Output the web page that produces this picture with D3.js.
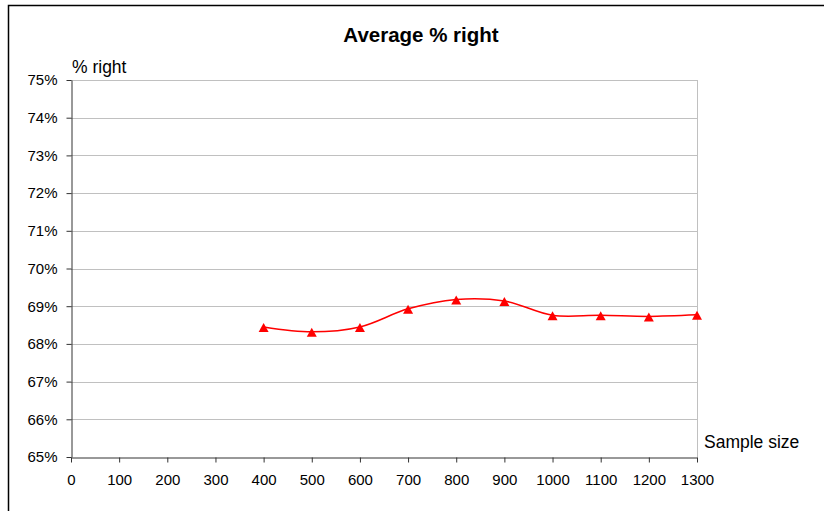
<!DOCTYPE html>
<html>
<head>
<meta charset="utf-8">
<script src="https://cdn.jsdelivr.net/npm/d3@7"></script>
<style>
  body { margin: 0; background: #fff; }
  text { font-family: "Liberation Sans", Arial, sans-serif; fill: #000; }
</style>
</head>
<body>
<div id="chart"></div>
<script>
// data
var sampleSizes = [400, 500, 600, 700, 800, 900, 1000, 1100, 1200, 1300];
var pctRight = [68.45, 68.32, 68.45, 68.93, 69.18, 69.14, 68.76, 68.76, 68.73, 68.77];
var xTicks = [0, 100, 200, 300, 400, 500, 600, 700, 800, 900, 1000, 1100, 1200, 1300];
var yTicks = [65, 66, 67, 68, 69, 70, 71, 72, 73, 74, 75];

var chart = {
  width: 824,
  height: 511,
  top: 80,
  right: 127,
  bottom: 54,
  left: 71,
};

const svg = d3
  .select("#chart")
  .append("svg")
  .attr("width", chart.width)
  .attr("height", chart.height);

/* outer chart border */
svg
  .append("rect")
  .attr("x", 8.5)
  .attr("y", 5.5)
  .attr("width", 830)
  .attr("height", 520)
  .attr("fill", "none")
  .attr("stroke", "#000")
  .attr("stroke-width", 1.5);

var x = d3
  .scaleLinear()
  .domain([0, 1300])
  .range([chart.left, chart.width - chart.right]);

var y = d3
  .scaleLinear()
  .domain([65, 75])
  .range([chart.height - chart.bottom, chart.top]);

/* gridlines */
svg
  .append("g")
  .selectAll("line")
  .data(yTicks.slice(1))
  .join("line")
  .attr("x1", x(0))
  .attr("x2", x(1300))
  .attr("y1", (d) => Math.round(y(d)) + 0.5)
  .attr("y2", (d) => Math.round(y(d)) + 0.5)
  .attr("stroke", "#c0c0c0")
  .attr("stroke-width", 1);

/* right edge of plot area */
svg
  .append("line")
  .attr("x1", Math.round(x(1300)) + 0.5)
  .attr("x2", Math.round(x(1300)) + 0.5)
  .attr("y1", y(75))
  .attr("y2", y(65))
  .attr("stroke", "#c0c0c0");

var xAxis = (g) =>
  g
    .attr("transform", `translate(0, ${Math.round(y(65)) + 0.5})`)
    .call(d3.axisBottom(x).tickValues(xTicks).tickSize(5).tickSizeOuter(0).tickPadding(12).tickFormat(d3.format("d")))
    .call((g) => g.selectAll("line, path").attr("stroke", "#333"))
    .call((g) => g.attr("font-size", 15).attr("font-family", '"Liberation Sans", Arial, sans-serif'));

var yAxis = (g) =>
  g
    .attr("transform", `translate(${Math.round(x(0)) + 0.5}, 0)`)
    .call(d3.axisLeft(y).tickValues(yTicks).tickSize(5).tickSizeOuter(0).tickPadding(9).tickFormat((d) => d + "%"))
    .call((g) => g.selectAll("line, path").attr("stroke", "#333"))
    .call((g) => g.attr("font-size", 15).attr("font-family", '"Liberation Sans", Arial, sans-serif'));

svg.append("g").call(xAxis);
svg.append("g").call(yAxis);

/* smoothed line */
var line = d3
  .line()
  .x((d, i) => x(sampleSizes[i]))
  .y((d) => y(d))
  .curve(d3.curveCatmullRom.alpha(0.5));

svg
  .append("path")
  .datum(pctRight)
  .attr("fill", "none")
  .attr("stroke", "#ff0000")
  .attr("stroke-width", 1.5)
  .attr("d", line);

/* triangle markers */
svg
  .append("g")
  .attr("fill", "#ff0000")
  .selectAll("path")
  .data(pctRight)
  .join("path")
  .attr("transform", (d, i) => `translate(${x(sampleSizes[i])}, ${y(d) + 1})`)
  .attr("d", "M0,-5L5,4L-5,4Z");

/* titles */
svg
  .append("text")
  .attr("x", 421)
  .attr("y", 42)
  .attr("text-anchor", "middle")
  .attr("font-size", 20.5)
  .attr("font-weight", "bold")
  .text("Average % right");

svg
  .append("text")
  .attr("x", 72)
  .attr("y", 73)
  .attr("font-size", 17.5)
  .text("% right");

svg
  .append("text")
  .attr("x", 704)
  .attr("y", 448)
  .attr("font-size", 17.5)
  .text("Sample size");
</script>
</body>
</html>
